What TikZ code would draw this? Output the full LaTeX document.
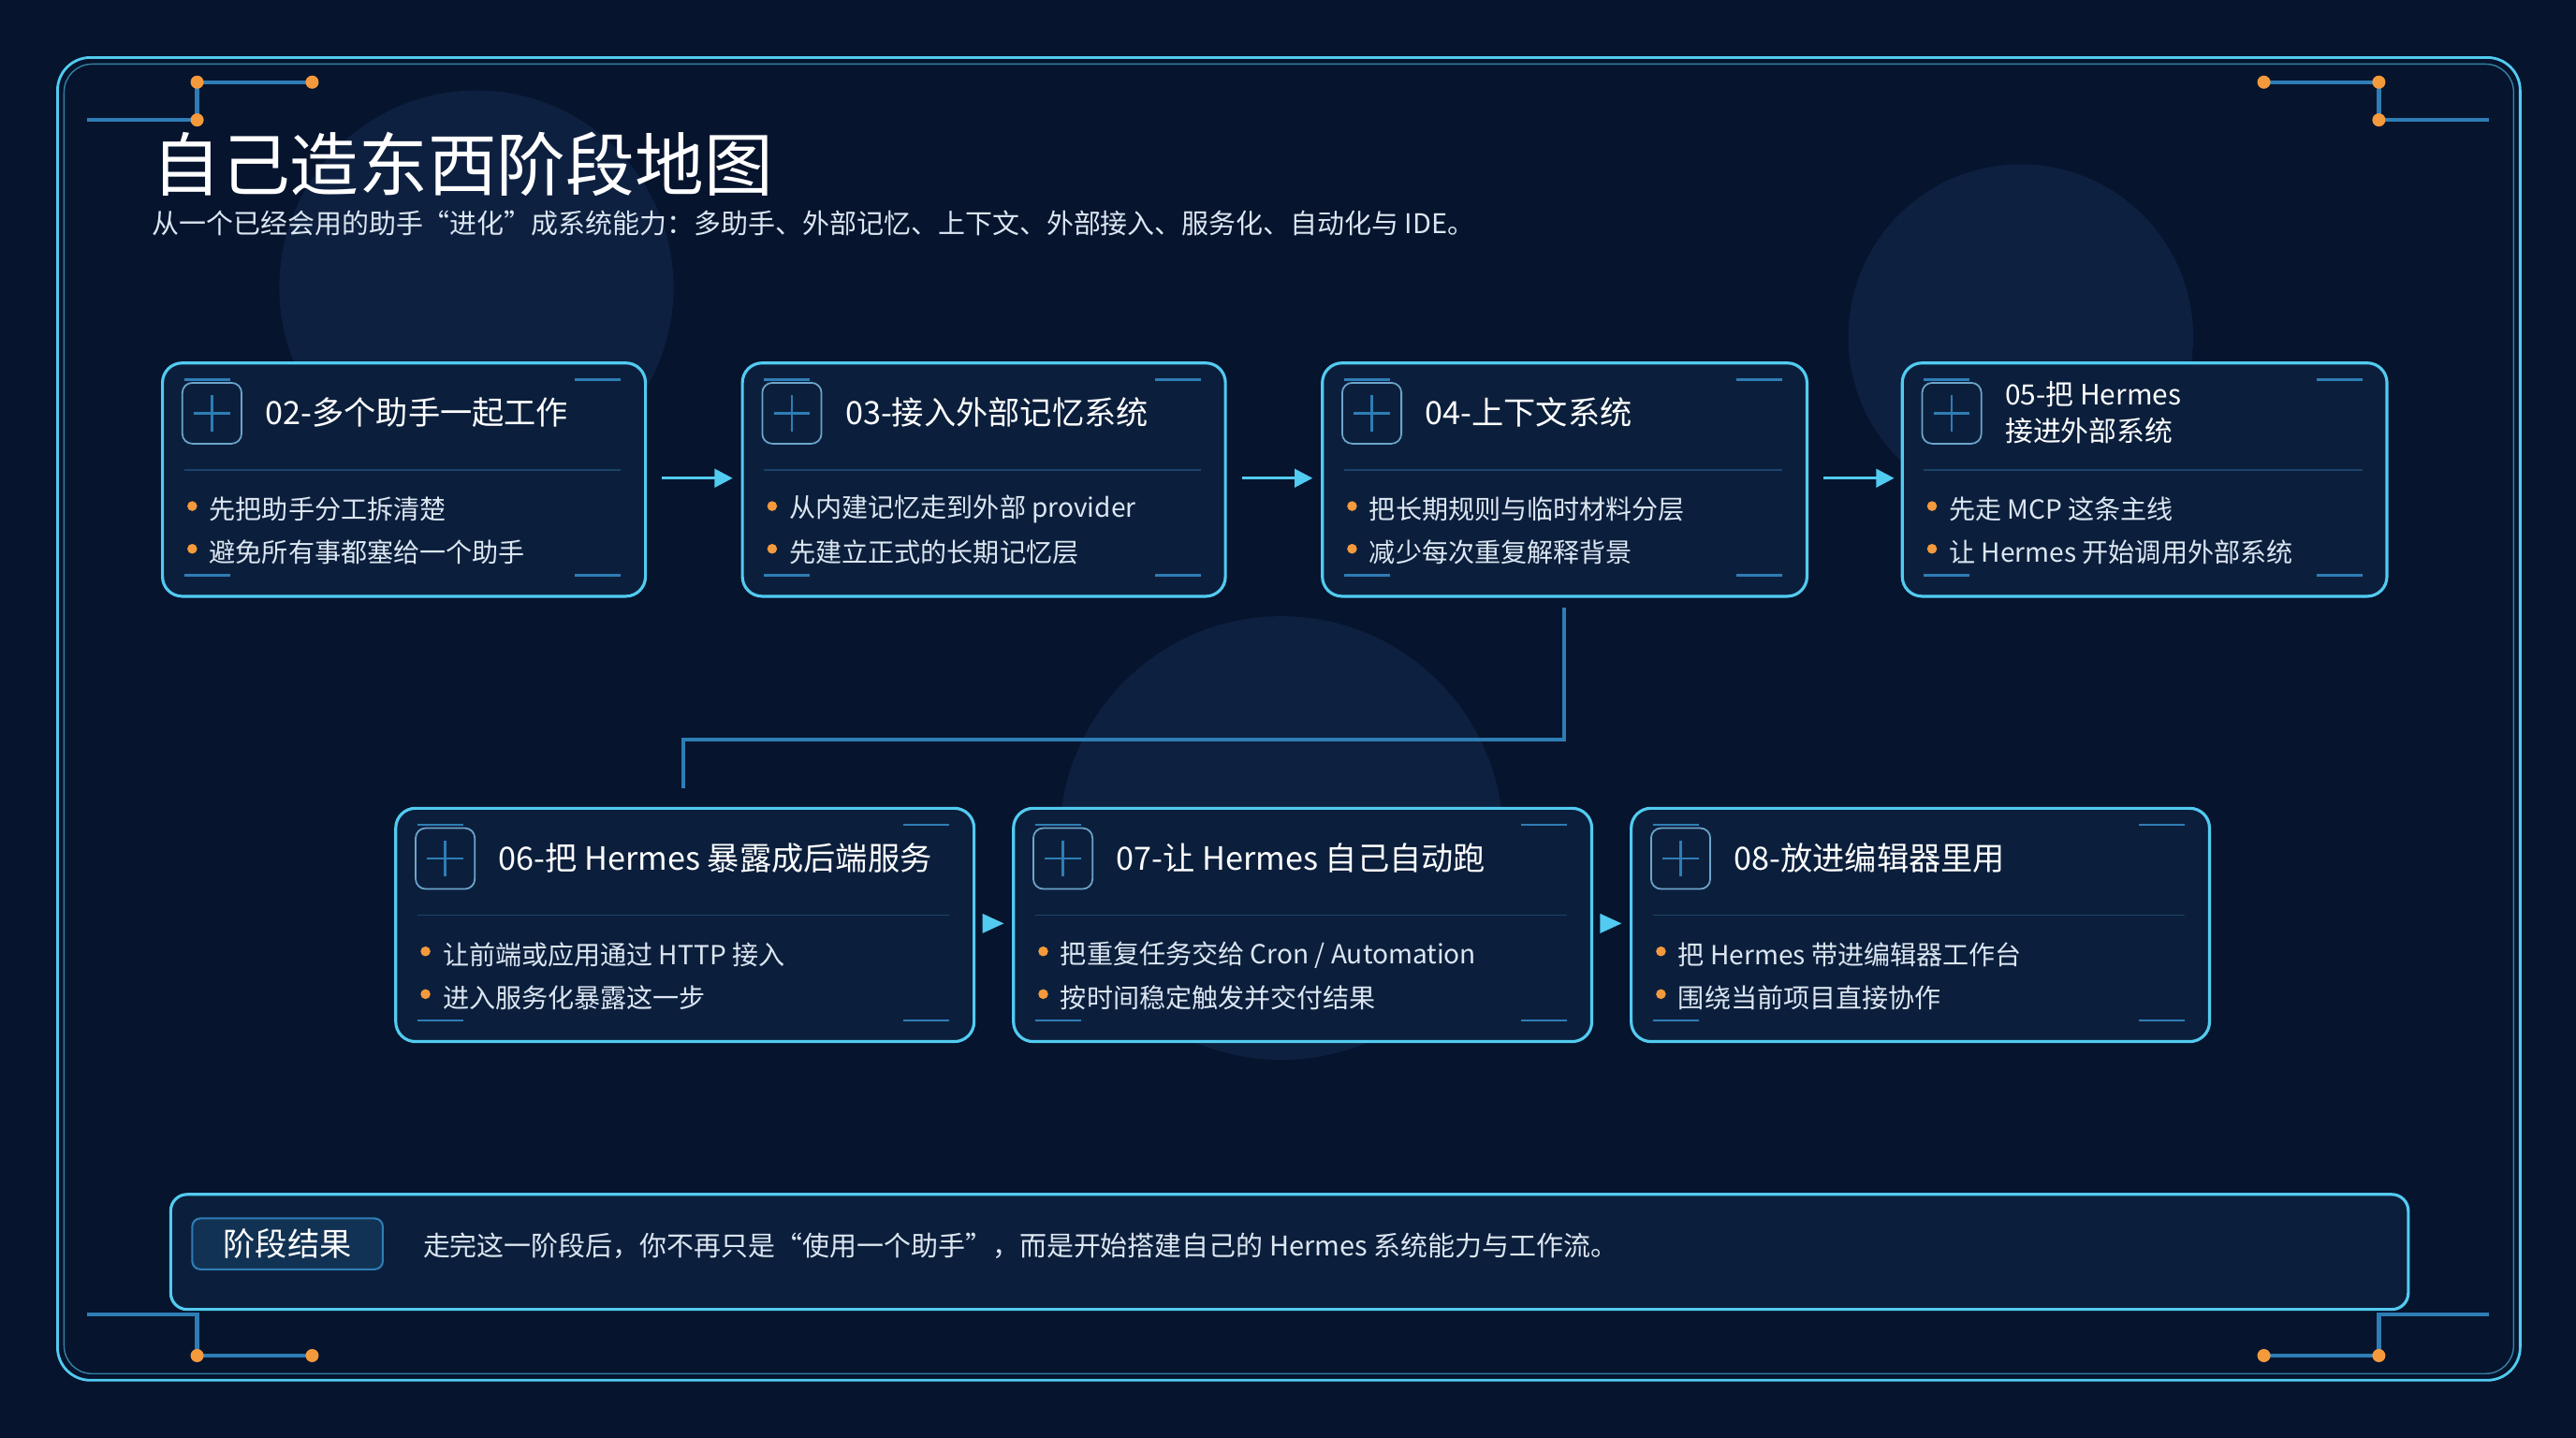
\documentclass[tikz,border=0pt]{standalone}
\usepackage{fontspec}
\setmainfont{Noto Sans CJK SC}
\usetikzlibrary{arrows.meta}
\definecolor{bg}{HTML}{06142E}
\definecolor{card}{HTML}{0B1F3C}
\definecolor{cyan1}{HTML}{52CBF0}
\definecolor{blu}{HTML}{2E7DB5}
\definecolor{sep}{HTML}{1C426A}
\definecolor{org}{HTML}{F59A3C}
\definecolor{txt}{HTML}{DCE6F2}
\definecolor{circ}{HTML}{0D2040}
\tikzset{
 cardbox/.style={draw=cyan1,line width=1.8pt,fill=card,rounded corners=12pt},
 tick/.style={blu,line width=1.5pt},
 orn/.style={blu,line width=2.5pt},
 odot/.style={fill=org,circle,inner sep=0pt,minimum size=8pt},
 ttl/.style={anchor=west,text=white,font=\fontsize{19.5}{22}\selectfont,align=left},
 bul/.style={anchor=west,text=txt,font=\fontsize{16}{18}\selectfont},
 flow/.style={cyan1,line width=2pt,-{Triangle[length=11pt,width=11pt]}},
}
\begin{document}
\begin{tikzpicture}[x=1pt,y=-1pt]
\fill[bg] (0,0) rectangle (1568,875);
\useasboundingbox (0,0) rectangle (1568,875);
\fill[circ] (290,175) circle (120);
\fill[circ] (1230,205) circle (105);
\fill[circ] (780,510) circle (135);
\draw[cyan1,line width=1.6pt,rounded corners=20pt] (35,35) rectangle (1534,840);
\draw[cyan1!60!bg,line width=0.8pt,rounded corners=17pt] (39,39) rectangle (1530,836);
% ornaments
\draw[orn] (53,73) -- (120,73) -- (120,50) -- (190,50);
\draw[orn] (1378,50) -- (1448,50) -- (1448,73) -- (1515,73);
\draw[orn] (53,800) -- (120,800) -- (120,825) -- (190,825);
\draw[orn] (1378,825) -- (1448,825) -- (1448,800) -- (1515,800);
\foreach \p in {(120,50),(190,50),(120,73),(1378,50),(1448,50),(1448,73),(120,825),(190,825),(1378,825),(1448,825)} \node[odot] at \p {};
\node[anchor=west,text=white,font=\fontsize{42}{46}\selectfont] (title) at (89,100) {自己造东西阶段地图};
\node[anchor=west,text=txt,font=\fontsize{16.5}{19}\selectfont] (sub) at (89,136) {从一个已经会用的助手“进化”成系统能力：多助手、外部记忆、上下文、外部接入、服务化、自动化与 IDE。};
\def\mkcard#1#2#3#4#5#6#7{%
 \node[cardbox,minimum width=#2-#1,minimum height=142,anchor=north west,inner sep=0pt] (#4) at (#1,#3) {};
 \draw[blu!70,line width=1pt,rounded corners=6pt] (#1+13,#3+13) rectangle (#1+49,#3+50);
 \draw[blu,line width=1.5pt] (#1+20,#3+31.5) -- (#1+42,#3+31.5) (#1+31,#3+20.5) -- (#1+31,#3+42.5);
 \draw[tick] (#1+14,#3+11) -- (#1+42,#3+11) (#2-42,#3+11) -- (#2-14,#3+11) (#1+14,#3+130) -- (#1+42,#3+130) (#2-42,#3+130) -- (#2-14,#3+130);
 \draw[sep,line width=1pt] (#1+14,#3+66) -- (#2-14,#3+66);
 \node[ttl] at (#1+60,#3+31) {#5};
 \node[odot,minimum size=6pt] at (#1+19,#3+88) {};
 \node[odot,minimum size=6pt] at (#1+19,#3+114) {};
 \node[bul] at (#1+26,#3+90) {#6};
 \node[bul] at (#1+26,#3+116) {#7};
}
\mkcard{98}{392}{220}{c2}{02-多个助手一起工作}{先把助手分工拆清楚}{避免所有事都塞给一个助手}
\mkcard{451}{745}{220}{c3}{03-接入外部记忆系统}{从内建记忆走到外部 provider}{先建立正式的长期记忆层}
\mkcard{804}{1099}{220}{c4}{04-上下文系统}{把长期规则与临时材料分层}{减少每次重复解释背景}
\mkcard{1157}{1452}{220}{c5}{\fontsize{17}{20}\selectfont 05-把 Hermes\\[0pt]\fontsize{17}{20}\selectfont 接进外部系统}{先走 MCP 这条主线}{让 Hermes 开始调用外部系统}
\mkcard{240}{592}{491}{c6}{06-把 Hermes 暴露成后端服务}{让前端或应用通过 HTTP 接入}{进入服务化暴露这一步}
\mkcard{616}{968}{491}{c7}{07-让 Hermes 自己自动跑}{把重复任务交给 Cron / Automation}{按时间稳定触发并交付结果}
\mkcard{992}{1344}{491}{c8}{08-放进编辑器里用}{把 Hermes 带进编辑器工作台}{围绕当前项目直接协作}
\coordinate (a1) at (403,291); \coordinate (b1) at (446,291);
\coordinate (a2) at (756,291); \coordinate (b2) at (799,291);
\coordinate (a3) at (1110,291); \coordinate (b3) at (1153,291);
\draw[flow] (a1) -- (b1);
\draw[flow] (a2) -- (b2);
\draw[flow] (a3) -- (b3);
\draw[blu,line width=2pt] (952,370) -- (952,450) -- (416,450) -- (416,480);
\fill[cyan1] (598,556) -- (611,562) -- (598,568) -- cycle;
\fill[cyan1] (974,556) -- (987,562) -- (974,568) -- cycle;
\node[cardbox,rounded corners=10pt,anchor=north west,minimum width=1362,minimum height=70,inner sep=0pt] (res) at (103,726) {};
\node[draw=blu,line width=1.2pt,fill=card!80!blu,rounded corners=5pt,minimum width=116,minimum height=31,text=white,font=\fontsize{19.5}{22}\selectfont,inner sep=0pt] (tag) at (175,757) {阶段结果};
\node[anchor=west,text=txt,font=\fontsize{16.5}{19}\selectfont] (rt) at (254,758) {走完这一阶段后，你不再只是“使用一个助手”，而是开始搭建自己的 Hermes 系统能力与工作流。};
\end{tikzpicture}
\end{document}
